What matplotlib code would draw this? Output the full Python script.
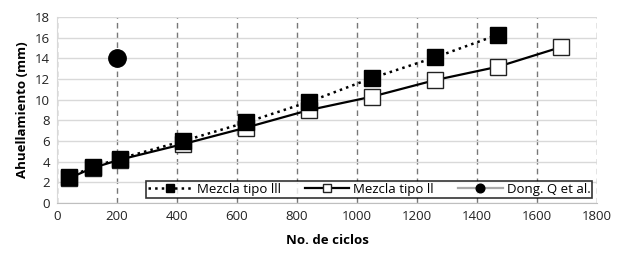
import matplotlib.pyplot as plt

# datos
ciclos_III = [40, 120, 210, 420, 630, 840, 1050, 1260, 1470]
ahuell_III = [2.5, 3.5, 4.3, 6.0, 7.8, 9.8, 12.1, 14.1, 16.3]

ciclos_II = [40, 120, 210, 420, 630, 840, 1050, 1260, 1470, 1680]
ahuell_II = [2.4, 3.4, 4.2, 5.7, 7.3, 9.0, 10.3, 11.9, 13.2, 15.1]

ciclos_dong = [200]
ahuell_dong = [14.0]

plt.rcParams['font.family'] = ['Open Sans', 'DejaVu Sans']

fig = plt.figure(figsize=(6.24, 2.59), dpi=100)
ax = fig.add_axes([0.091, 0.216, 0.866, 0.718])

ax.plot(ciclos_III, ahuell_III, color='black', linestyle=':', linewidth=1.8,
        marker='s', markersize=12, markerfacecolor='black',
        markeredgecolor='black', label='Mezcla tipo lll', zorder=4)
ax.plot(ciclos_II, ahuell_II, color='black', linestyle='-', linewidth=1.6,
        marker='s', markersize=11.5, markerfacecolor='white',
        markeredgecolor='#222222', markeredgewidth=1.0,
        label='Mezcla tipo ll', zorder=3)
ax.plot(ciclos_dong, ahuell_dong, color='#aaaaaa', linestyle='-', linewidth=1.6,
        marker='o', markersize=12.5, markerfacecolor='black',
        markeredgecolor='black', label='Dong. Q et al.', zorder=5)

ax.set_xlim(0, 1800)
ax.set_ylim(0, 18)
ax.set_xticks(range(0, 1801, 200))
ax.set_yticks(range(0, 19, 2))

ax.yaxis.grid(True, color='#d9d9d9', linewidth=1.0, linestyle='-')
ax.xaxis.grid(True, color='#777777', linewidth=1.0, linestyle=(0, (4, 3)))
ax.set_axisbelow(True)

for s in ['top', 'right']:
    ax.spines[s].set_visible(False)
ax.spines['left'].set_color('#d9d9d9')
ax.spines['bottom'].set_color('#bfbfbf')
ax.tick_params(axis='both', length=0, labelsize=9.5, pad=5, colors='#222222')

ax.set_xlabel('No. de ciclos', fontsize=9.5, fontweight='bold', labelpad=8)
ax.set_ylabel('Ahuellamiento (mm)', fontsize=9.5, fontweight='bold', labelpad=4)

leg = ax.legend(loc='lower right', ncol=3, fontsize=9.5, frameon=True,
                fancybox=False, edgecolor='black', markerscale=0.5,
                handlelength=3.4, columnspacing=1.8, handletextpad=0.3,
                borderpad=0.15, borderaxespad=0,
                bbox_to_anchor=(0.991, 0.027))
leg.get_frame().set_linewidth(1.2)

fig.savefig('out.png', dpi=100)
